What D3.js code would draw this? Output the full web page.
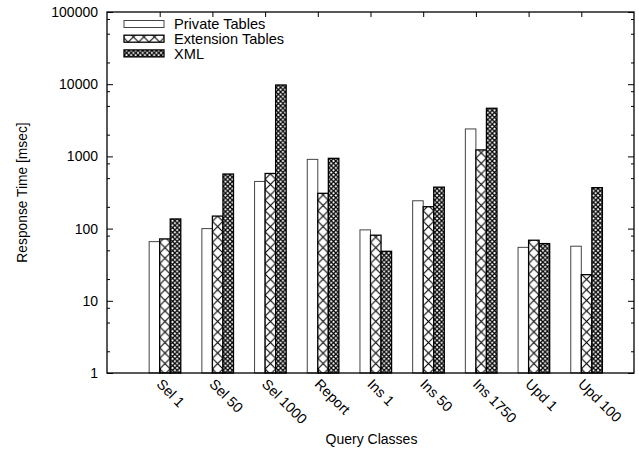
<!DOCTYPE html>
<html><head><meta charset="utf-8">
<script src="https://cdn.jsdelivr.net/npm/d3@7/dist/d3.min.js"></script>
<style>body{margin:0;background:#fff}svg{display:block}text{font-family:"Liberation Sans",Arial,sans-serif;fill:#000}</style>
</head><body>
<script>
const categories = ["Sel 1","Sel 50","Sel 1000","Report","Ins 1","Ins 50","Ins 1750","Upd 1","Upd 100"];
const seriesNames = ["Private Tables","Extension Tables","XML"];
const privateTables = [66, 100, 450, 910, 96, 243, 2400, 55, 57];
const extensionTables = [72, 149, 580, 308, 81, 201, 1230, 69, 23];
const xmlValues = [136, 570, 9750, 940, 48.5, 375, 4640, 62, 369];
const yTicks = [1, 10, 100, 1000, 10000, 100000];
const yTickLabels = ["1","10","100","1000","10000","100000"];
const minorMultipliers = [2, 5, 8];

const W = 639, H = 457;
const L = 107, R = 634, T = 12, B = 373;
const svg = d3.select("body").append("svg").attr("width", W).attr("height", H);

const x = d3.scaleLinear().domain([-1, 9]).range([L, R]);
const y = d3.scaleLog().domain([1, 100000]).range([B, T]);
const bw = x(0.2) - x(0);

const defs = svg.append("defs");
const p1 = defs.append("pattern").attr("id","ext").attr("patternUnits","userSpaceOnUse")
  .attr("width", bw).attr("height", bw).attr("x", x(0)).attr("y", 0);
p1.append("rect").attr("width", bw).attr("height", bw).attr("fill","#fff");
p1.append("path").attr("d",`M0,0L${bw},${bw}M${bw},0L0,${bw}`).attr("stroke","#000").attr("stroke-width",1.1);
const s2 = 4.6;
const p2 = defs.append("pattern").attr("id","xml").attr("patternUnits","userSpaceOnUse")
  .attr("width", s2).attr("height", s2).attr("x", x(0.2)).attr("y", 0);
p2.append("rect").attr("width", s2).attr("height", s2).attr("fill","#fff");
p2.append("path").attr("d",`M0,0L${s2},${s2}M${s2},0L0,${s2}`).attr("stroke","#000").attr("stroke-width",1.3);

const fills = ["#fff","url(#ext)","url(#xml)"];
const strokes = ["#444","#000","#000"];
const sw = [1, 1.3, 1.3];
const series = [privateTables, extensionTables, xmlValues];

series.forEach((vals, j) => {
  svg.append("g").selectAll("rect").data(vals).join("rect")
    .attr("x", (d,i) => x(i + (j-1)*0.2))
    .attr("width", bw)
    .attr("y", d => y(d))
    .attr("height", d => y(1) - y(d))
    .attr("fill", fills[j]).attr("stroke", strokes[j]).attr("stroke-width", sw[j]);
});

const minors = [];
for (let k = 0; k < 5; k++) minorMultipliers.forEach(m => minors.push(m * Math.pow(10, k)));

const axes = svg.append("g").attr("stroke","#000").attr("fill","none");
axes.append("g").attr("transform",`translate(${L},0)`)
  .call(d3.axisLeft(y).tickValues(yTicks).tickSize(-6).tickFormat(""))
  .call(g => g.select(".domain").remove());
axes.append("g").attr("transform",`translate(${L},0)`)
  .call(d3.axisLeft(y).tickValues(minors).tickSize(-3).tickFormat(""))
  .call(g => g.select(".domain").remove());
axes.append("g").attr("transform",`translate(${R},0)`)
  .call(d3.axisRight(y).tickValues(yTicks).tickSize(-6).tickFormat(""))
  .call(g => g.select(".domain").remove());
axes.append("g").attr("transform",`translate(${R},0)`)
  .call(d3.axisRight(y).tickValues(minors).tickSize(-3).tickFormat(""))
  .call(g => g.select(".domain").remove());
axes.append("g").attr("transform",`translate(0,${T})`)
  .call(d3.axisTop(x).tickValues(d3.range(categories.length)).tickSize(-5).tickFormat(""))
  .call(g => g.select(".domain").remove());
axes.append("g").attr("transform",`translate(0,${B})`)
  .call(d3.axisBottom(x).tickValues(d3.range(categories.length)).tickSize(-5).tickFormat(""))
  .call(g => g.select(".domain").remove());
svg.selectAll(".tick line").attr("stroke","#000").attr("stroke-width",1);

svg.append("rect").attr("x",L).attr("y",T).attr("width",R-L).attr("height",B-T)
  .attr("fill","none").attr("stroke","#000").attr("stroke-width",1.3);

svg.append("g").selectAll("text").data(yTicks).join("text")
  .attr("x", L - 9).attr("y", d => y(d)).attr("dy","0.36em")
  .attr("text-anchor","end").attr("font-size", 14)
  .text((d,i) => yTickLabels[i]);

svg.append("g").selectAll("text").data(categories).join("text")
  .attr("text-anchor","start").attr("font-size", 14.3)
  .attr("transform", (d,i) => `translate(${x(i) - 4},${B + 12}) rotate(45)`)
  .text(d => d);

svg.append("text").attr("x", (L+R)/2 + 1).attr("y", 444).attr("text-anchor","middle")
  .attr("font-size", 14).text("Query Classes");
svg.append("text").attr("transform",`translate(27,${(T+B)/2}) rotate(-90)`)
  .attr("text-anchor","middle").attr("font-size", 13.8).text("Response Time [msec]");

const leg = svg.append("g");
seriesNames.forEach((n, j) => {
  const cy = 24 + j * 14.7;
  leg.append("rect").attr("x",124).attr("y",cy-3.5).attr("width",40).attr("height",7)
    .attr("fill", fills[j]).attr("stroke", strokes[j]).attr("stroke-width", sw[j]);
  leg.append("text").attr("x",174).attr("y",cy).attr("dy","0.36em")
    .attr("font-size",14.6).text(n);
});
</script>
</body></html>
